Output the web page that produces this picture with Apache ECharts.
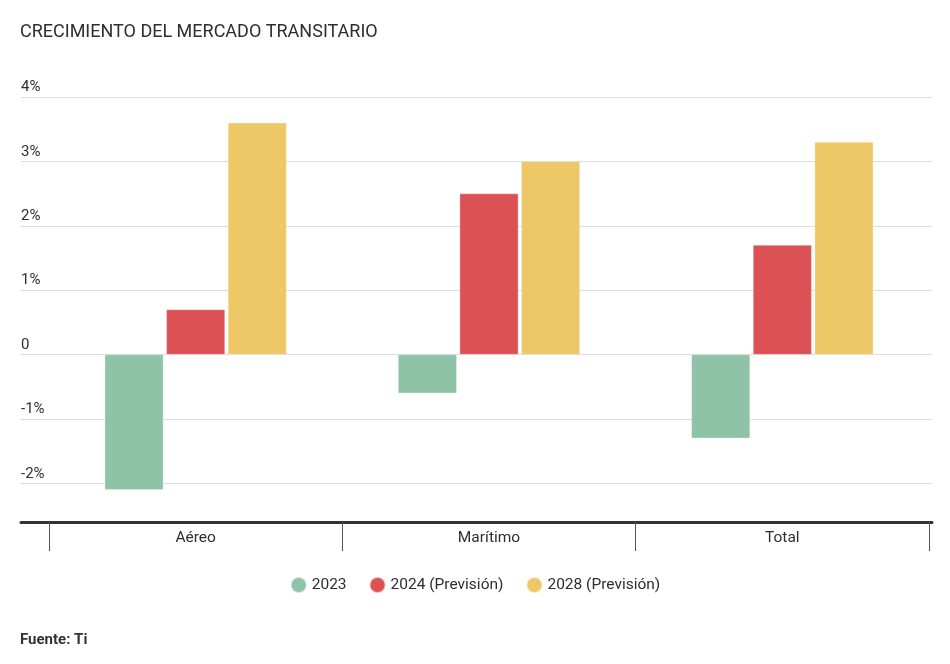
<!DOCTYPE html>
<html>
<head>
<meta charset="utf-8">
<script src="https://cdn.jsdelivr.net/npm/echarts@6/dist/echarts.min.js"></script>
<style>
html,body{margin:0;padding:0;background:#fff;}
#main{width:950px;height:664px;}
</style>
</head>
<body>
<div id="main"></div>
<script>
const categories = ['Aéreo', 'Marítimo', 'Total'];
const seriesNames = ['2023', '2024 (Previsión)', '2028 (Previsión)'];
const values2023 = [-2.1, -0.6, -1.3];
const values2024 = [0.7, 2.5, 1.7];
const values2028 = [3.6, 3.0, 3.3];
const colors = ['#8fc3a7', '#dc5254', '#eec866'];
const yMin = -2.6;
const yMax = 4;

const FONT = 'Roboto';
const chart = echarts.init(document.getElementById('main'), null, {renderer: 'canvas'});

const dataSets = [values2023, values2024, values2028];
const series = dataSets.map((d, i) => ({
  name: seriesNames[i],
  type: 'bar',
  xAxisIndex: 1,
  yAxisIndex: 1,
  data: d,
  barWidth: '20%',
  barGap: '5%',
  itemStyle: {color: colors[i], borderColor: 'rgba(255,255,255,0.6)', borderWidth: 0.5},
  emphasis: {disabled: true}
}));

chart.setOption({
  animation: false,
  backgroundColor: '#ffffff',
  textStyle: {fontFamily: FONT},
  title: {
    text: 'CRECIMIENTO DEL MERCADO TRANSITARIO',
    left: 15, top: 18,
    textStyle: {fontFamily: FONT, fontSize: 18, fontWeight: 'normal', color: '#2e2e2e'}
  },
  graphic: [{
    type: 'text', left: 20, top: 633,
    style: {text: 'Fuente: Ti', font: 'bold 15px Roboto', fill: '#333333'}
  }],
  legend: {
    data: seriesNames,
    top: 571, left: 'center',
    icon: 'circle', itemWidth: 16, itemHeight: 16, itemGap: 22,
    textStyle: {fontFamily: FONT, fontSize: 15.5, color: '#2e2e2e'}
  },
  grid: [
    {left: 21, right: 18, top: 97, bottom: 142},
    {left: 49, right: 21, top: 97, bottom: 142}
  ],
  xAxis: [
    {
      gridIndex: 0, type: 'value', min: 0, max: 1,
      axisLine: {show: true, onZero: false, lineStyle: {color: '#333333', width: 3}},
      axisTick: {show: false}, axisLabel: {show: false}, splitLine: {show: false}
    },
    {
      gridIndex: 1, type: 'category', data: categories,
      axisLine: {show: false, onZero: false},
      axisTick: {show: true, length: 29, lineStyle: {color: '#555555', width: 1}},
      axisLabel: {margin: 8, fontFamily: FONT, fontSize: 15.5, color: '#2e2e2e'},
      splitLine: {show: false}
    }
  ],
  yAxis: [
    {
      gridIndex: 0, type: 'value', min: yMin, max: yMax, splitNumber: 6,
      axisLine: {show: false}, axisTick: {show: false},
      splitLine: {show: true, lineStyle: {color: '#dddddd', width: 1}},
      axisLabel: {
        inside: true, margin: 0, align: 'left', verticalAlign: 'bottom',
        padding: [0, 0, 2, 0],
        fontFamily: FONT, fontSize: 15, color: '#2e2e2e',
        formatter: v => {
          if (Math.abs(v - Math.round(v)) > 1e-6 || v <= yMin + 1e-6) return '';
          return v === 0 ? '0' : Math.round(v) + '%';
        }
      }
    },
    {
      gridIndex: 1, type: 'value', min: yMin, max: yMax, splitNumber: 6,
      show: false, splitLine: {show: false}
    }
  ],
  series: series
});
</script>
</body>
</html>
